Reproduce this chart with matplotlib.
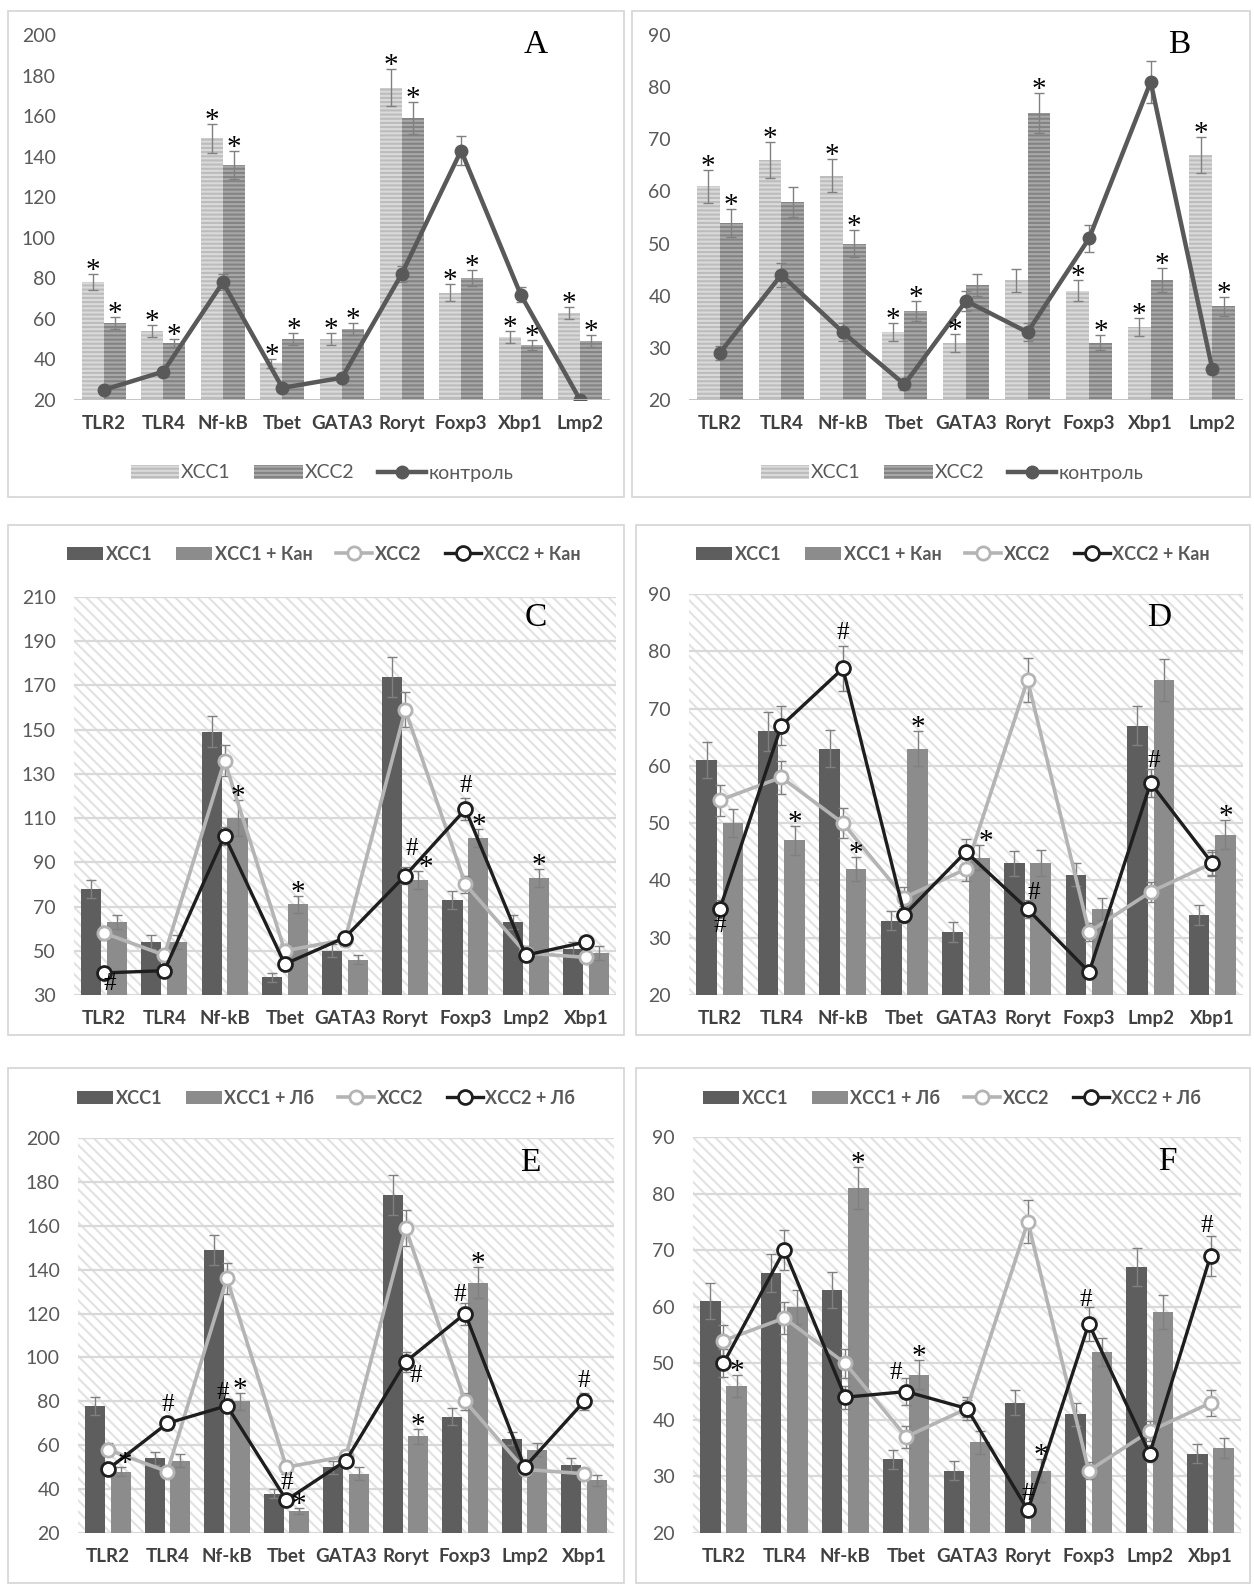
import numpy as np
import matplotlib.pyplot as plt
from matplotlib.patches import Rectangle

plt.rcParams['font.family'] = ['Lato', 'Open Sans', 'DejaVu Sans']
plt.rcParams['hatch.linewidth'] = 1.5

W, H = 1254, 1584

genes_ab = ['TLR2', 'TLR4', 'Nf-kB', 'Tbet', 'GATA3', 'Roryt', 'Foxp3', 'Xbp1', 'Lmp2']
genes_cf = ['TLR2', 'TLR4', 'Nf-kB', 'Tbet', 'GATA3', 'Roryt', 'Foxp3', 'Lmp2', 'Xbp1']

# A
a_xcc1 = [78, 54, 149, 38, 50, 174, 73, 51, 63]
a_xcc1_err = [4, 3, 7, 2, 3, 9, 4, 3, 3]
a_xcc2 = [58, 48, 136, 50, 55, 159, 80, 47, 49]
a_xcc2_err = [3, 2, 7, 3, 3, 8, 4, 2.5, 3]
a_ctl = [25, 34, 78, 26, 31, 82, 143, 72, 20]
a_ctl_err = [1, 1.5, 4, 1, 1, 4, 7, 3.5, 1]

# B
b_xcc1 = [61, 66, 63, 33, 31, 43, 41, 34, 67]
b_xcc1_err = [3.2, 3.4, 3.2, 1.7, 1.7, 2.2, 2, 1.7, 3.4]
b_xcc2 = [54, 58, 50, 37, 42, 75, 31, 43, 38]
b_xcc2_err = [2.7, 2.9, 2.6, 1.9, 2.1, 3.8, 1.5, 2.3, 1.8]
b_ctl = [29, 44, 33, 23, 39, 33, 51, 81, 26]
b_ctl_err = [1.4, 2.3, 1.7, 1, 2, 1.7, 2.6, 4.1, 1]

# C
c_xcc1 = [78, 54, 149, 38, 50, 174, 73, 63, 51]
c_xcc1_err = [4, 3, 7, 2, 3, 9, 4, 3, 3]
c_kan = [63, 54, 110, 71, 46, 82, 101, 83, 49]
c_kan_err = [3, 3, 8, 4, 2, 4, 4, 4, 3]
c_xcc2 = [58, 48, 136, 50, 55, 159, 80, 49, 47]
c_xcc2_err = [3, 2, 7, 3, 3, 8, 4, 3, 2.5]
c_xcc2_kan = [40, 41, 102, 44, 56, 84, 114, 48, 54]
c_xcc2_kan_err = [1, 1, 4, 1, 1, 4, 5, 1, 1]

# D
d_xcc1 = [61, 66, 63, 33, 31, 43, 41, 67, 34]
d_xcc1_err = [3.2, 3.4, 3.2, 1.7, 1.7, 2.2, 2, 3.4, 1.7]
d_kan = [50, 47, 42, 63, 44, 43, 35, 75, 48]
d_kan_err = [2.5, 2.5, 2.1, 3.1, 2.1, 2.3, 1.9, 3.7, 2.5]
d_xcc2 = [54, 58, 50, 37, 42, 75, 31, 38, 43]
d_xcc2_err = [2.7, 2.9, 2.6, 1.9, 2.1, 3.8, 1.5, 1.8, 2.3]
d_xcc2_kan = [35, 67, 77, 34, 45, 35, 24, 57, 43]
d_xcc2_kan_err = [1.5, 3.4, 3.9, 1.5, 2.2, 1.5, 0.5, 2.5, 2]

# E
e_xcc1 = [78, 54, 149, 38, 50, 174, 73, 63, 51]
e_xcc1_err = [4, 3, 7, 2, 3, 9, 4, 3, 3]
e_lb = [48, 53, 80, 30, 47, 64, 134, 58, 44]
e_lb_err = [2, 3, 4, 1.5, 3, 3.5, 7, 3, 2.5]
e_xcc2 = [58, 48, 136, 50, 55, 159, 80, 49, 47]
e_xcc2_err = [3, 2, 7, 3, 3, 8, 4, 3, 2.5]
e_xcc2_lb = [49, 70, 78, 35, 53, 98, 120, 50, 80]
e_xcc2_lb_err = [1.5, 3, 3, 1.5, 2, 4.5, 5, 1.5, 4]

# F
f_xcc1 = [61, 66, 63, 33, 31, 43, 41, 67, 34]
f_xcc1_err = [3.2, 3.4, 3.2, 1.7, 1.7, 2.2, 2, 3.4, 1.7]
f_lb = [46, 60, 81, 48, 36, 31, 52, 59, 35]
f_lb_err = [2, 3, 3.7, 2.5, 2, 2, 2.5, 3, 1.8]
f_xcc2 = [54, 58, 50, 37, 42, 75, 31, 38, 43]
f_xcc2_err = [2.7, 2.9, 2.6, 1.9, 2.1, 3.8, 1.5, 1.8, 2.3]
f_xcc2_lb = [50, 70, 44, 45, 42, 24, 57, 34, 69]
f_xcc2_lb_err = [2.5, 3.5, 2, 2.4, 1.5, 1, 3, 1.5, 3.5]

fig = plt.figure(figsize=(W / 100, H / 100), dpi=100)


def px_axes(l, t, r, b):
    return fig.add_axes([l / W, 1 - b / H, (r - l) / W, (b - t) / H])


def frame(l, t, r, b):
    fig.add_artist(Rectangle((l / W, 1 - b / H), (r - l) / W, (b - t) / H,
                             transform=fig.transFigure, fill=False,
                             edgecolor='#d4d4d4', lw=1.2))


def letter(x, y, s):
    fig.text(x / W, 1 - y / H, s, ha='center', va='center', fontsize=24,
             family='Liberation Serif', color='black')


def style(ax, genes, lo, hi, step):
    ax.set_xlim(-0.5, len(genes) - 0.5)
    ax.set_ylim(lo, hi)
    ax.set_yticks(np.arange(lo, hi + 1, step))
    ax.set_xticks(range(len(genes)))
    ax.set_xticklabels(genes, fontweight='bold', color='#404040', fontsize=13.5)
    ax.tick_params(length=0)
    ax.tick_params(axis='y', labelcolor='#595959', labelsize=14, pad=13)
    ax.tick_params(axis='x', pad=11)
    for s in ax.spines.values():
        s.set_visible(False)


def errs(ax, x, y, e, z=3):
    ax.errorbar(x, y, yerr=e, fmt='none', ecolor='#808080', elinewidth=1,
                capsize=3.5, capthick=1, zorder=z)


def star(ax, x, top, dx=0, dy=3):
    ax.annotate('*', (x, top), xytext=(dx, dy), textcoords='offset pixels',
                ha='center', va='center', fontsize=21, family='Liberation Serif',
                color='black', zorder=8, annotation_clip=False)


def hashmark(ax, x, y, dx, dy):
    ax.annotate('#', (x, y), xytext=(dx, dy), textcoords='offset pixels',
                ha='center', va='center', fontsize=18, family='Liberation Serif',
                color='black', zorder=8, annotation_clip=False)


def panel_ab(ax, x1, e1, x2, e2, ctl, ectl, s1, s2, lo, hi, step, leg_xy):
    x = np.arange(len(genes_ab))
    w = 0.37
    b1 = ax.bar(x - w / 2, x1, w, color='#dadada', edgecolor='#bcbcbc',
                hatch='----', lw=0, zorder=2)
    b2 = ax.bar(x + w / 2, x2, w, color='#a8a8a8', edgecolor='#838383',
                hatch='----', lw=0, zorder=2)
    errs(ax, x - w / 2, x1, e1)
    errs(ax, x + w / 2, x2, e2)
    errs(ax, x, ctl, ectl, z=4)
    ln, = ax.plot(x, ctl, color='#595959', lw=3.2, marker='o', ms=9, zorder=5)
    ax.axhline(lo, color='#c0c0c0', lw=2, zorder=6)
    style(ax, genes_ab, lo, hi, step)
    for i in s1:
        star(ax, x[i] - w / 2, x1[i] + e1[i])
    for i in s2:
        star(ax, x[i] + w / 2, x2[i] + e2[i])
    fig.legend([b1, b2, ln], ['ХСС1', 'ХСС2', 'контроль'], loc='center',
               bbox_to_anchor=(leg_xy[0] / W, 1 - leg_xy[1] / H), ncol=3,
               frameon=False, fontsize=14, labelcolor='#595959',
               handlelength=2.5, handletextpad=0.1, columnspacing=1.2)


def panel_cf(ax, x1, e1, x1t, e1t, x2, e2, x2t, e2t, tag, lo, hi, step,
             stars, hashes, leg_xy):
    x = np.arange(len(genes_cf))
    w = 0.335
    d = 0.215
    ax.add_patch(Rectangle((0, 0), 1, 1, transform=ax.transAxes,
                           facecolor='white', edgecolor='#e2e2e2',
                           hatch='\\\\\\', lw=0, zorder=0))
    ax.set_axisbelow(True)
    ax.grid(axis='y', color='#d9d9d9', lw=1.6)
    b1 = ax.bar(x - d, x1, w, color='#5e5e5e', lw=0, zorder=2)
    b2 = ax.bar(x + d, x1t, w, color='#8c8c8c', lw=0, zorder=2)
    errs(ax, x - d, x1, e1)
    errs(ax, x + d, x1t, e1t)
    errs(ax, x, x2, e2, z=3.5)
    errs(ax, x, x2t, e2t, z=3.5)
    l1, = ax.plot(x, x2, color='#b4b4b4', lw=2.6, marker='o', ms=9.5,
                  mfc='white', mec='#b4b4b4', mew=2, zorder=4)
    l2, = ax.plot(x, x2t, color='#1e1e1e', lw=2.4, marker='o', ms=10,
                  mfc='white', mec='#1e1e1e', mew=2, zorder=5)
    style(ax, genes_cf, lo, hi, step)
    for i, dx in stars:
        star(ax, x[i] + d, x1t[i] + e1t[i], dx=dx)
    for i, dx, dy in hashes:
        hashmark(ax, x[i], x2t[i], dx, dy)
    fig.legend([b1, b2, l1, l2],
               ['ХСС1', 'ХСС1 + ' + tag, 'ХСС2', 'ХСС2 + ' + tag],
               loc='center', bbox_to_anchor=(leg_xy[0] / W, 1 - leg_xy[1] / H),
               ncol=4, frameon=False, labelcolor='#595959',
               prop={'weight': 'bold', 'size': 13},
               handlelength=2.0, handletextpad=0.15, columnspacing=1.3)


# panel frames
frame(8, 11, 624, 497)
frame(632, 11, 1250, 497)
frame(8, 525, 624, 1035)
frame(636, 525, 1250, 1035)
frame(8, 1068, 624, 1583)
frame(636, 1068, 1250, 1583)

ax = px_axes(74, 35, 610, 400)
panel_ab(ax, a_xcc1, a_xcc1_err, a_xcc2, a_xcc2_err, a_ctl, a_ctl_err,
         range(9), range(9), 20, 200, 20, (322, 473))
letter(536, 45, 'A')

ax = px_axes(689, 35, 1243, 400)
panel_ab(ax, b_xcc1, b_xcc1_err, b_xcc2, b_xcc2_err, b_ctl, b_ctl_err,
         [0, 1, 2, 3, 4, 6, 7, 8], [0, 2, 3, 5, 6, 7, 8], 20, 90, 10, (952, 473))
letter(1179, 45, 'B')

ax = px_axes(74, 597, 616, 995)
panel_cf(ax, c_xcc1, c_xcc1_err, c_kan, c_kan_err, c_xcc2, c_xcc2_err,
         c_xcc2_kan, c_xcc2_kan_err, 'Кан', 30, 210, 20,
         [(2, 0), (3, 0), (5, 8), (6, 0), (7, 0)],
         [(0, 6, -11), (5, 7, 27), (6, 0, 23)], (324, 554))
letter(536, 618, 'C')

ax = px_axes(689, 594, 1243, 995)
panel_cf(ax, d_xcc1, d_xcc1_err, d_kan, d_kan_err, d_xcc2, d_xcc2_err,
         d_xcc2_kan, d_xcc2_kan_err, 'Кан', 20, 90, 10,
         [(1, 0), (2, 0), (3, 0), (4, 7), (8, 0)],
         [(0, 0, -17), (2, 0, 35), (5, 6, 16), (7, 3, 22)], (953, 554))
letter(1159, 618, 'D')

ax = px_axes(78, 1138, 614, 1533)
panel_cf(ax, e_xcc1, e_xcc1_err, e_lb, e_lb_err, e_xcc2, e_xcc2_err,
         e_xcc2_lb, e_xcc2_lb_err, 'Лб', 20, 200, 20,
         [(0, 4), (2, 0), (3, 0), (5, 0), (6, 0)],
         [(1, 0, 18), (2, -4, 13), (3, 0, 17), (5, 10, -14), (6, -5, 19), (8, 0, 20)],
         (326, 1098))
letter(530, 1163, 'E')

ax = px_axes(693, 1137, 1241, 1533)
panel_cf(ax, f_xcc1, f_xcc1_err, f_lb, f_lb_err, f_xcc2, f_xcc2_err,
         f_xcc2_lb, f_xcc2_lb_err, 'Лб', 20, 90, 10,
         [(0, 0), (2, 0), (3, 0), (5, 0)],
         [(3, -10, 19), (5, 0, 16), (6, -3, 24), (8, -4, 30)], (952, 1098))
letter(1167, 1162, 'F')

fig.savefig('out.png', dpi=100, facecolor='white')
